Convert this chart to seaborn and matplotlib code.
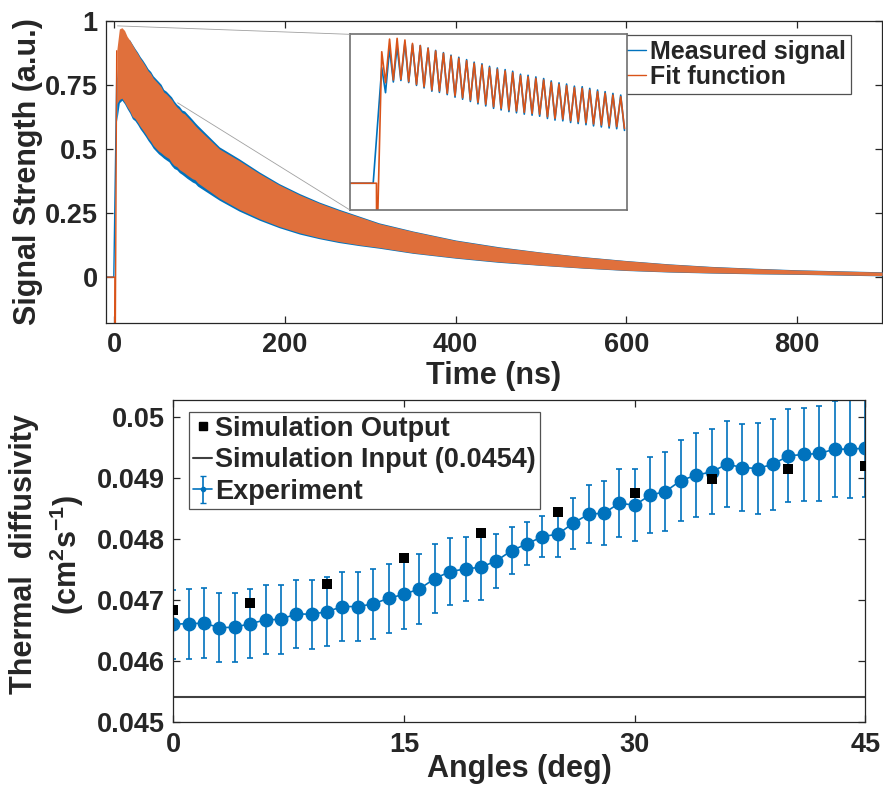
import numpy as np
import matplotlib
matplotlib.use("Agg")
import matplotlib.pyplot as plt
from matplotlib.patches import ConnectionPatch
from matplotlib.lines import Line2D
import seaborn as sns

# --- top panel: signal, first 100 ns read peak by peak (inset region) ---
peak_t = [2.6, 5.7, 8.7, 11.8, 14.8, 17.9, 21.0, 24.0, 27.1, 30.1, 33.2, 36.3,
          39.3, 42.4, 45.4, 48.5, 51.6, 54.6, 57.7, 60.7, 63.8, 66.9, 69.9, 73.0,
          76.0, 79.1, 82.2, 85.2, 88.3, 91.3, 94.4, 97.5]
trough_t = [4.1, 7.2, 10.2, 13.3, 16.4, 19.4, 22.5, 25.5, 28.6, 31.7, 34.7, 37.8,
            40.8, 43.9, 47.0, 50.0, 53.1, 56.1, 59.2, 62.3, 65.3, 68.4, 71.4, 74.5,
            77.6, 80.6, 83.7, 86.7, 89.8, 92.9, 95.9, 99.0]

fit_peak = [0.883, 0.968, 0.973, 0.962, 0.939, 0.924, 0.906, 0.888, 0.872, 0.854,
            0.839, 0.823, 0.805, 0.794, 0.776, 0.765, 0.754, 0.742, 0.722, 0.715,
            0.704, 0.693, 0.677, 0.664, 0.655, 0.642, 0.637, 0.626, 0.615, 0.604,
            0.592, 0.581]
fit_trough = [0.675, 0.693, 0.698, 0.682, 0.664, 0.648, 0.626, 0.619, 0.604, 0.588,
              0.574, 0.559, 0.543, 0.530, 0.514, 0.503, 0.492, 0.485, 0.476, 0.469,
              0.463, 0.447, 0.436, 0.431, 0.420, 0.413, 0.406, 0.398, 0.391, 0.384,
              0.380, 0.368]
meas_peak = [0.776, 0.906, 0.917, 0.944, 0.930, 0.925, 0.908, 0.892, 0.877, 0.860,
             0.846, 0.830, 0.813, 0.802, 0.785, 0.774, 0.763, 0.752, 0.732, 0.725,
             0.714, 0.703, 0.687, 0.674, 0.666, 0.652, 0.648, 0.637, 0.626, 0.615,
             0.603, 0.592]
meas_trough = [0.608, 0.680, 0.690, 0.676, 0.657, 0.640, 0.618, 0.610, 0.595, 0.578,
               0.564, 0.549, 0.533, 0.519, 0.503, 0.492, 0.481, 0.473, 0.464, 0.457,
               0.450, 0.435, 0.424, 0.419, 0.408, 0.401, 0.393, 0.385, 0.378, 0.371,
               0.366, 0.355]

# before the rise
fit_pre_t = [-10, 0.5, 0.6]
fit_pre_v = [0.0, 0.0, -0.5]
meas_pre_t = [-10, -0.8]
meas_pre_v = [0.0, 0.0]

# envelope of the dense oscillation after 100 ns
env_t = [123, 146, 170, 193, 217, 240, 263, 287, 310, 350, 400, 450, 500,
         550, 600, 650, 700, 750, 800, 850, 900]
meas_upper = [0.508, 0.462, 0.410, 0.365, 0.326, 0.293, 0.265, 0.238, 0.212,
              0.180, 0.145, 0.119, 0.098, 0.080, 0.065, 0.052, 0.042, 0.035, 0.029,
              0.025, 0.021]
meas_lower = [0.300, 0.258, 0.222, 0.193, 0.168, 0.150, 0.135, 0.123, 0.113,
              0.093, 0.074, 0.058, 0.046, 0.035, 0.026, 0.020, 0.016, 0.013, 0.011,
              0.008, 0.005]
fit_upper = [0.500, 0.455, 0.404, 0.360, 0.321, 0.289, 0.261, 0.235, 0.209,
             0.178, 0.143, 0.117, 0.097, 0.079, 0.064, 0.051, 0.041, 0.034, 0.028,
             0.024, 0.020]
fit_lower = [0.308, 0.265, 0.228, 0.198, 0.173, 0.154, 0.139, 0.126, 0.116,
             0.095, 0.076, 0.060, 0.047, 0.036, 0.027, 0.021, 0.017, 0.014, 0.012,
             0.009, 0.006]

# --- bottom panel ---
angles = list(range(46))
exp_val = [0.046597, 0.046607, 0.046613, 0.046541, 0.046547, 0.046607, 0.046667,
           0.046678, 0.046766, 0.046760, 0.046804, 0.046886, 0.046886, 0.046930,
           0.047022, 0.047088, 0.047175, 0.047345, 0.047460, 0.047503, 0.047531,
           0.047634, 0.047804, 0.047913, 0.048033, 0.048072, 0.048252, 0.048400,
           0.048416, 0.048580, 0.048547, 0.048711, 0.048771, 0.048951, 0.049039,
           0.049093, 0.049219, 0.049164, 0.049148, 0.049219, 0.049356, 0.049378,
           0.049394, 0.049465, 0.049465, 0.049481]
exp_err = [0.000566, 0.000574, 0.000574, 0.000568, 0.000568, 0.000566, 0.000566,
           0.000563, 0.000563, 0.000566, 0.000560, 0.000563, 0.000566, 0.000568,
           0.000566, 0.000568, 0.000571, 0.000560, 0.000549, 0.000527, 0.000530,
           0.000440, 0.000388, 0.000352, 0.000339, 0.000369, 0.000415, 0.000473,
           0.000522, 0.000560, 0.000593, 0.000623, 0.000647, 0.000661, 0.000688,
           0.000697, 0.000705, 0.000719, 0.000738, 0.000746, 0.000762, 0.000765,
           0.000776, 0.000790, 0.000806, 0.000795]
sim_angles = [0, 5, 10, 15, 20, 25, 30, 35, 40, 45]
sim_val = [0.046831, 0.046940, 0.047252, 0.047689, 0.048088, 0.048432, 0.048744,
           0.048979, 0.049137, 0.049192]
sim_input = 0.0454

BLUE = '#0072BD'
ORANGE = '#D95319'
AXC = '#262626'

sns.set_theme(style='ticks')
plt.rcParams['font.family'] = ['Liberation Sans', 'DejaVu Sans']
plt.rcParams['font.weight'] = 'bold'
plt.rcParams['axes.labelweight'] = 'bold'
plt.rcParams['mathtext.fontset'] = 'custom'
plt.rcParams['mathtext.rm'] = 'Liberation Sans:bold'
plt.rcParams['mathtext.bf'] = 'Liberation Sans:bold'
plt.rcParams['axes.edgecolor'] = AXC
plt.rcParams['xtick.color'] = AXC
plt.rcParams['ytick.color'] = AXC

TICK_FS = 19.5
LABEL_FS = 22


def interleave(a, b):
    out = []
    for p, q in zip(a, b):
        out += [p, q]
    return out


fit_t = fit_pre_t + interleave(peak_t, trough_t)
fit_v = fit_pre_v + interleave(fit_peak, fit_trough)
meas_t = meas_pre_t + interleave(peak_t, trough_t)
meas_v = meas_pre_v + interleave(meas_peak, meas_trough)

# band of the dense oscillation for the main view (peak k paired with trough k)
band_t = peak_t + env_t
meas_hi = meas_peak + meas_upper
meas_lo = meas_trough + meas_lower
fit_hi = fit_peak + fit_upper
fit_lo = fit_trough + fit_lower


def style_axes(ax, fs=TICK_FS):
    ax.tick_params(direction='in', top=True, right=True, length=5, width=0.9,
                   labelsize=fs, colors=AXC)
    for s in ax.spines.values():
        s.set_linewidth(0.9)
        s.set_color(AXC)
    for lab in ax.get_xticklabels() + ax.get_yticklabels():
        lab.set_fontweight('bold')


fig = plt.figure(figsize=(8.83, 7.89), dpi=100)
ax1 = fig.add_axes([0.12, 0.5902, 0.879, 0.3835])
ax2 = fig.add_axes([0.1963, 0.0853, 0.7837, 0.4077])

# main signal: the rise as lines, the fast oscillation as its envelope band
sns.lineplot(x=meas_t[:3], y=meas_v[:3], ax=ax1, color=BLUE, lw=1.0,
             estimator=None, sort=False)
sns.lineplot(x=fit_t[:4], y=fit_v[:4], ax=ax1, color=ORANGE, lw=1.0,
             estimator=None, sort=False)
ax1.fill_between(band_t, meas_lo, meas_hi, color=BLUE, lw=0, zorder=3)
ax1.fill_between(band_t, fit_lo, fit_hi, color='#E0703C', lw=0, zorder=4)
ax1.set_xlim(-10, 900)
ax1.set_ylim(-0.18, 1)
ax1.set_xticks([0, 200, 400, 600, 800])
ax1.set_yticks([0, 0.25, 0.5, 0.75, 1])
ax1.set_yticklabels(['0', '0.25', '0.5', '0.75', '1'])
ax1.set_xlabel('Time (ns)', fontsize=LABEL_FS, fontweight='bold')
ax1.set_ylabel('Signal Strength (a.u.)', fontsize=LABEL_FS, fontweight='bold')
style_axes(ax1)
ax1.tick_params(axis='x', pad=6)
ax1.tick_params(axis='y', pad=6)
ax1.xaxis.set_label_coords(0.5, -0.123)
ax1.yaxis.set_label_coords(-0.081, 0.5)

leg1 = ax1.legend(handles=[Line2D([], [], color=BLUE, lw=1),
                           Line2D([], [], color=ORANGE, lw=1)],
                  labels=['Measured signal', 'Fit function'],
                  loc='upper right', bbox_to_anchor=(0.96, 0.953), borderaxespad=0,
                  fontsize=18, handlelength=0.8, handletextpad=0.15,
                  labelspacing=0.05, borderpad=0.2, frameon=True, fancybox=False)
leg1.get_frame().set_edgecolor(AXC)
leg1.get_frame().set_linewidth(0.9)
for t in leg1.get_texts():
    t.set_fontweight('bold')

# inset
axin = fig.add_axes([0.3964, 0.7338, 0.3137, 0.2227])
sns.lineplot(x=meas_t, y=meas_v, ax=axin, color=BLUE, lw=1.2, estimator=None, sort=False)
sns.lineplot(x=fit_t, y=fit_v, ax=axin, color=ORANGE, lw=1.2, estimator=None, sort=False)
axin.set_xlim(-10, 100)
axin.set_ylim(-0.18, 1)
axin.set_xticks([])
axin.set_yticks([])
axin.set_xlabel('')
axin.set_ylabel('')
for s in axin.spines.values():
    s.set_color('#707070')
    s.set_linewidth(1.2)

for xy_main, xy_in in [((3.5, 0.98), (0, 1)), ((74, 0.68), (0, 0))]:
    con = ConnectionPatch(xyA=xy_main, coordsA=ax1.transData, xyB=xy_in,
                          coordsB=axin.transAxes, color='#a0a0a0', lw=0.6)
    fig.add_artist(con)

# bottom panel
ax2.axhline(sim_input, color='#404040', lw=1.5, zorder=1)
ax2.errorbar(angles, exp_val, yerr=exp_err, fmt='-o', color=BLUE, ms=9, lw=1.2,
             elinewidth=1.2, capsize=2.5, capthick=1.2, zorder=2)
sns.scatterplot(x=sim_angles, y=sim_val, ax=ax2, marker='s', s=45, color='black',
                edgecolor='black', linewidth=0, zorder=3)
ax2.set_xlim(0, 45)
ax2.set_ylim(0.045, 0.05027)
ax2.set_xticks([0, 15, 30, 45])
ax2.set_yticks([0.045, 0.046, 0.047, 0.048, 0.049, 0.05])
ax2.set_yticklabels(['0.045', '0.046', '0.047', '0.048', '0.049', '0.05'])
ax2.set_xlabel('Angles (deg)', fontsize=LABEL_FS, fontweight='bold')
ax2.set_ylabel('Thermal  diffusivity\n(cm$^{2}$s$^{-1}$)', fontsize=LABEL_FS,
               fontweight='bold', linespacing=1.3)
style_axes(ax2)
ax2.tick_params(axis='x', pad=7.5)
ax2.tick_params(axis='y', pad=6)
ax2.xaxis.set_label_coords(0.5, -0.10)
ax2.yaxis.set_label_coords(-0.126, 0.52)

h_sim = Line2D([], [], ls='none', marker='s', ms=6, color='black')
h_in = Line2D([], [], color='#404040', lw=1.5)
h_exp = ax2.errorbar([np.nan], [np.nan], yerr=[np.nan], fmt='-o', color=BLUE, ms=3,
                     lw=1.2, elinewidth=1.2, capsize=2)
leg2 = ax2.legend(handles=[h_sim, h_in, h_exp],
                  labels=['Simulation Output', 'Simulation Input (0.0454)', 'Experiment'],
                  loc='upper left', bbox_to_anchor=(0.0227, 0.9636), borderaxespad=0,
                  fontsize=19.5, handlelength=0.7, handletextpad=0.1,
                  labelspacing=0.2, borderpad=0.15, frameon=True, fancybox=False)
leg2.get_frame().set_edgecolor(AXC)
leg2.get_frame().set_linewidth(0.9)
for t in leg2.get_texts():
    t.set_fontweight('bold')

fig.savefig('out.png', dpi=100)
